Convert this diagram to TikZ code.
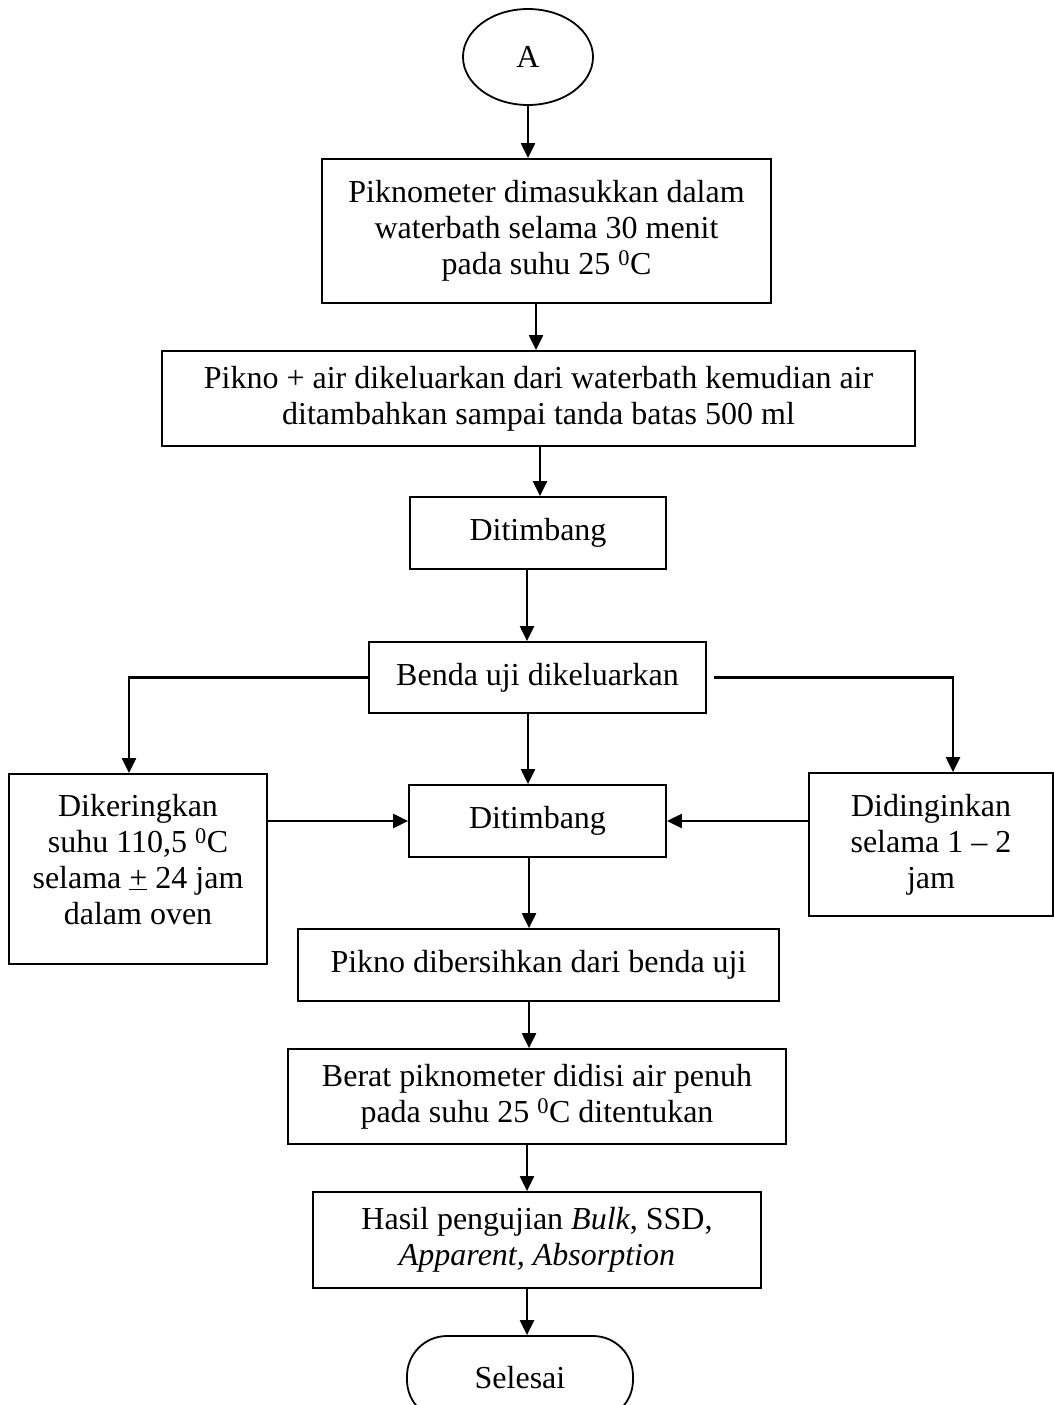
\documentclass[tikz,border=0pt]{standalone}
\usepackage{fontspec}
\setmainfont{Liberation Serif}
\usetikzlibrary{arrows.meta,shapes.geometric}

\tikzset{
  box/.style={draw, line width=1.8pt, rectangle, inner sep=0pt, align=center,
              font=\fontsize{32}{36}\selectfont},
  oval/.style={draw, line width=1.8pt, ellipse, inner sep=0pt,
              font=\fontsize{32}{36}\selectfont},
  term/.style={draw, line width=1.8pt, rectangle, rounded corners=40pt, inner sep=0pt,
              font=\fontsize{32}{36}\selectfont},
  arr/.style={line width=2.2pt, -{Triangle[length=15pt,width=14pt]}}
}

\begin{document}
\begin{tikzpicture}[x=1pt,y=-1pt]
\useasboundingbox (0,0) rectangle (1054,1405);

% start connector
\node[oval, minimum width=130pt, minimum height=96pt] (A) at (528,57) {A};

% main column of steps
\node[box, minimum width=449pt, minimum height=144pt] (s1) at (546.5,231)
  {Piknometer dimasukkan dalam\\waterbath selama 30 menit\\pada suhu 25 \textsuperscript{0}C};
\node[box, minimum width=753pt, minimum height=95pt] (s2) at (538.5,398.5)
  {Pikno + air dikeluarkan dari waterbath kemudian air\\ditambahkan sampai tanda batas 500 ml};
\node[box, minimum width=256pt, minimum height=72pt] (s3) at (538,533) {Ditimbang};
\node[box, minimum width=337pt, minimum height=71pt] (s4) at (537.5,677.5) {Benda uji dikeluarkan};
\node[box, minimum width=257pt, minimum height=72pt] (s5) at (537.5,821) {Ditimbang};
\node[box, minimum width=481pt, minimum height=72pt] (s6) at (538.5,965) {Pikno dibersihkan dari benda uji};
\node[box, minimum width=498pt, minimum height=95pt] (s7) at (537,1096.5)
  {Berat piknometer didisi air penuh\\pada suhu 25 \textsuperscript{0}C ditentukan};
\node[box, minimum width=448pt, minimum height=96pt] (s8) at (537,1240)
  {Hasil pengujian \textit{Bulk}, SSD,\\\textit{Apparent, Absorption}};
\node[term, minimum width=226pt, minimum height=84pt] (end) at (520,1378) {Selesai};

% side branches
\node[box, minimum width=258pt, minimum height=190pt] (dry) at (138,869)
  {Dikeringkan\\suhu 110,5 \textsuperscript{0}C\\selama \underline{+} 24 jam\\dalam oven\\[-16pt]};
\node[box, minimum width=244pt, minimum height=143pt] (cool) at (931,844.5)
  {Didinginkan\\selama 1 -- 2\\jam};

% vertical flow
\draw[arr] (A.south) -- (A.south |- s1.north);
\draw[arr] ([xshift=-10.5pt]s1.south) -- ([xshift=-10.5pt]s1.south |- s2.north);
\draw[arr] ([xshift=1.5pt]s2.south) -- ([xshift=1.5pt]s2.south |- s3.north);
\draw[arr] ([xshift=-11pt]s3.south) -- ([xshift=-11pt]s3.south |- s4.north);
\draw[arr] ([xshift=-9.5pt]s4.south) -- ([xshift=-9.5pt]s4.south |- s5.north);
\draw[arr] ([xshift=-8.5pt]s5.south) -- ([xshift=-8.5pt]s5.south |- s6.north);
\draw[arr] ([xshift=-9.5pt]s6.south) -- ([xshift=-9.5pt]s6.south |- s7.north);
\draw[arr] ([xshift=-10pt]s7.south) -- ([xshift=-10pt]s7.south |- s8.north);
\draw[arr] ([xshift=-10pt]s8.south) -- ([xshift=-10pt]s8.south |- end.north);

% branches out of "Benda uji dikeluarkan"
\draw[arr] (s4.west) -| ([xshift=-9pt]dry.north);
\draw[arr] ([xshift=7pt]s4.east) -| ([xshift=22pt]cool.north);

% branches back into "Ditimbang"
\draw[arr] (s5.west -| dry.east) -- (s5.west);
\draw[arr] (s5.east -| cool.west) -- (s5.east);
\end{tikzpicture}
\end{document}
